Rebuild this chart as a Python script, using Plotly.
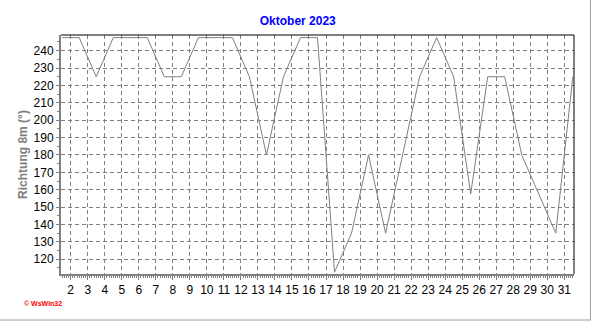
import plotly.graph_objects as go

# ---- data ----
days = list(range(1, 32))
richtung = [247.5, 247.5, 225, 247.5, 247.5, 247.5, 225, 225, 247.5, 247.5,
            247.5, 225, 180, 225, 247.5, 247.5, 112.5, 135, 180, 135,
            180, 225, 247.5, 225, 157.5, 225, 225, 180, 157.5, 135, 225]
x_tick_vals = list(range(2, 32))
x_tick_text = [str(v) for v in x_tick_vals]
y_tick_vals = list(range(120, 241, 10))
title_text = "Oktober 2023"
y_title = "Richtung 8m (°)"
credit = "© WsWin32"

# daily values are plotted at midday
x_pos = [d + 0.5 for d in days]

GRAY = "#808080"
FONT = "Liberation Sans, Arial, sans-serif"

fig = go.Figure(go.Scatter(
    x=x_pos, y=richtung, mode="lines",
    line=dict(color=GRAY, width=1), hoverinfo="skip"))

grid = dict(showgrid=True, gridcolor=GRAY, gridwidth=1, griddash="4px,3px",
            showline=True, linecolor=GRAY, linewidth=2, zeroline=False,
            ticks="outside", tickcolor=GRAY,
            tickfont=dict(family=FONT, size=12, color="black"))

fig.update_layout(
    width=592, height=321,
    margin=dict(l=61, r=18, t=35, b=47),
    paper_bgcolor="white", plot_bgcolor="white",
    showlegend=False,
    title=dict(text=title_text, x=0.503, xref="container", xanchor="center",
               y=1 - 20.7 / 321, yref="container", yanchor="middle",
               font=dict(family=FONT, size=12, color="#0000FF", weight="bold")),
    xaxis=dict(range=[1.43, 31.57], tickmode="array", tickvals=x_tick_vals,
               ticktext=x_tick_text, ticklen=4,
               minor=dict(dtick=0.125, tick0=0, ticks="outside", ticklen=2,
                          tickcolor=GRAY, showgrid=False),
               **grid),
    yaxis=dict(range=[111.5, 249], tickmode="array", tickvals=y_tick_vals,
               ticklen=3,
               minor=dict(dtick=5, tick0=0, ticks="outside", ticklen=2,
                          tickcolor=GRAY, showgrid=False),
               title=dict(text=y_title, standoff=3,
                          font=dict(family=FONT, size=12, color=GRAY, weight="bold")),
               **grid),
    shapes=[
        dict(type="line", xref="paper", yref="paper", x0=0, x1=1, y0=1, y1=1,
             line=dict(color="black", width=1)),
        dict(type="line", xref="paper", yref="paper", x0=1, x1=1, y0=0, y1=1,
             line=dict(color="black", width=1)),
        dict(type="line", xref="paper", yref="paper", x0=1.032, x1=1.032,
             y0=-0.195, y1=1.15, line=dict(color="#a0a0a0", width=1)),
        dict(type="line", xref="paper", yref="paper", x0=-0.12, x1=1.032,
             y0=-0.1925, y1=-0.1925, line=dict(color="#a0a0a0", width=1)),
    ],
    annotations=[
        dict(text=credit, xref="paper", yref="paper", x=-0.0766, y=-0.1255,
             xanchor="left", yanchor="middle", showarrow=False,
             font=dict(family=FONT, size=7, color="red", weight="bold")),
    ],
)

fig.write_html("out.html")
